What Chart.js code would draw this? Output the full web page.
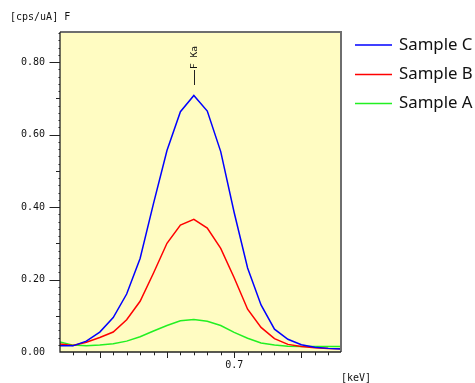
<!DOCTYPE html>
<html>
<head>
<meta charset="utf-8">
<script src="https://cdn.jsdelivr.net/npm/chart.js@4.4.1/dist/chart.umd.min.js"></script>
<style>
  html, body { margin: 0; padding: 0; background: #ffffff; }
  #wrap { position: relative; width: 475px; height: 383px; overflow: hidden; }
  canvas { display: block; }
</style>
</head>
<body>
<div id="wrap"><canvas id="c" width="475" height="383"></canvas></div>
<script>
// Energy (keV), sampled every 0.01 keV
const energies = [0.57, 0.58, 0.59, 0.60, 0.61, 0.62, 0.63, 0.64, 0.65, 0.66, 0.67,
                  0.68, 0.69, 0.70, 0.71, 0.72, 0.73, 0.74, 0.75, 0.76, 0.77, 0.78];
// Intensities (cps/uA)
const sampleC = [0.017, 0.017, 0.030, 0.055, 0.095, 0.160, 0.258, 0.410, 0.556, 0.663, 0.708,
                 0.665, 0.553, 0.385, 0.232, 0.130, 0.063, 0.035, 0.020, 0.013, 0.010, 0.008];
const sampleB = [0.022, 0.018, 0.027, 0.040, 0.055, 0.089, 0.140, 0.218, 0.300, 0.350, 0.366,
                 0.342, 0.286, 0.205, 0.118, 0.068, 0.037, 0.021, 0.015, 0.012, 0.010, 0.009];
const sampleA = [0.028, 0.019, 0.017, 0.019, 0.023, 0.030, 0.042, 0.058, 0.073, 0.086, 0.090,
                 0.085, 0.073, 0.054, 0.038, 0.025, 0.019, 0.016, 0.015, 0.015, 0.015, 0.015];
const seriesNames = ['Sample C', 'Sample B', 'Sample A'];
const seriesColors = ['#0000ff', '#ff0000', '#22f022'];
const yTickLabels = ['0.00', '0.20', '0.40', '0.60', '0.80'];
const xTickLabels = ['0.7'];
const peakLine = { energy: 0.67, label: 'F Ka' };
const yUnitLabel = '[cps/uA] F';
const xUnitLabel = '[keV]';

const MONO = '"DejaVu Sans Mono", "Liberation Mono", monospace';

function pts(vals) { return energies.map((e, i) => ({ x: e, y: vals[i] })); }

const decor = {
  id: 'decor',
  beforeDraw(chart) {
    const { ctx, chartArea: a } = chart;
    ctx.save();
    ctx.fillStyle = '#fffcc2';
    ctx.fillRect(a.left, a.top, a.right - a.left, a.bottom - a.top);
    ctx.restore();
  },
  afterDraw(chart) {
    const { ctx, chartArea: a } = chart;
    const xs = chart.scales.x, ys = chart.scales.y;
    ctx.save();
    // frame
    ctx.strokeStyle = '#6e6e6e';
    ctx.lineWidth = 2;
    ctx.beginPath();
    ctx.moveTo(a.left, a.top); ctx.lineTo(a.right, a.top); ctx.lineTo(a.right, a.bottom);
    ctx.stroke();
    ctx.strokeStyle = '#222';
    ctx.lineWidth = 1.3;
    ctx.beginPath();
    ctx.moveTo(a.left, a.top); ctx.lineTo(a.left, a.bottom); ctx.lineTo(a.right, a.bottom);
    ctx.stroke();
    // y tick marks
    ctx.strokeStyle = '#222';
    ctx.lineWidth = 1;
    ys.ticks.forEach((t, i) => {
      const k = Math.round(t.value * 100);
      if (k === 0) return;
      const y = Math.round(ys.getPixelForTick(i)) + 0.5;
      const len = (k % 20 === 0) ? 10.5 : (k % 10 === 0 ? 4 : 1.5);
      ctx.beginPath(); ctx.moveTo(a.left - len, y); ctx.lineTo(a.left, y); ctx.stroke();
    });
    // x tick marks
    xs.ticks.forEach((t, i) => {
      const k = Math.round(t.value * 100);
      const x = Math.round(xs.getPixelForTick(i)) + 0.5;
      const len = (k % 5 === 0) ? 6 : 3.3;
      ctx.beginPath(); ctx.moveTo(x, a.bottom); ctx.lineTo(x, a.bottom + len); ctx.stroke();
    });
    // unit labels
    ctx.fillStyle = '#111';
    ctx.font = '10px ' + MONO;
    ctx.textBaseline = 'middle';
    ctx.textAlign = 'left';
    ctx.fillText(yUnitLabel, 10, 17);
    ctx.fillText(xUnitLabel, 341, 378);
    // peak marker
    const px = Math.round(xs.getPixelForValue(peakLine.energy)) + 0.5;
    ctx.strokeStyle = '#222';
    ctx.lineWidth = 1;
    ctx.beginPath(); ctx.moveTo(px, 85); ctx.lineTo(px, 70); ctx.stroke();
    ctx.save();
    ctx.translate(px, 69);
    ctx.rotate(-Math.PI / 2);
    ctx.font = '9.5px ' + MONO;
    ctx.textAlign = 'left';
    ctx.textBaseline = 'middle';
    ctx.fillText(peakLine.label, 0, 0.5);
    ctx.restore();
    // legend
    const rows = [45, 74.5, 103.5];
    chart.data.datasets.forEach((ds, i) => {
      const y = rows[i];
      ctx.strokeStyle = ds.borderColor;
      ctx.lineWidth = 1.3;
      ctx.beginPath(); ctx.moveTo(355, y); ctx.lineTo(392, y); ctx.stroke();
      ctx.fillStyle = '#111';
      ctx.font = '16.8px "Noto Sans", "Open Sans", sans-serif';
      ctx.textAlign = 'left';
      ctx.textBaseline = 'middle';
      ctx.fillText(ds.label, 399, y);
    });
    ctx.restore();
  }
};

new Chart(document.getElementById('c'), {
  type: 'line',
  data: {
    datasets: [
      { label: seriesNames[0], data: pts(sampleC), borderColor: seriesColors[0] },
      { label: seriesNames[1], data: pts(sampleB), borderColor: seriesColors[1] },
      { label: seriesNames[2], data: pts(sampleA), borderColor: seriesColors[2] }
    ]
  },
  options: {
    responsive: false,
    devicePixelRatio: 1,
    animation: false,
    elements: {
      line: { borderWidth: 1.5, tension: 0, fill: false },
      point: { radius: 0, hoverRadius: 0 }
    },
    layout: { padding: { top: 32, right: 134, left: 0, bottom: 0 } },
    plugins: { legend: { display: false }, tooltip: { enabled: false } },
    scales: {
      x: {
        type: 'linear',
        min: 0.5704,
        max: 0.7795,
        grid: { display: false, drawTicks: false },
        border: { display: false },
        afterFit(s) { s.height = 31; },
        ticks: {
          stepSize: 0.01,
          includeBounds: false,
          autoSkip: false,
          maxRotation: 0,
          minRotation: 0,
          padding: 7,
          color: '#111',
          font: { family: MONO, size: 10 },
          callback(v) {
            const s = (Math.round(v * 100) / 100).toString();
            return xTickLabels.includes(s) ? s : '';
          }
        }
      },
      y: {
        type: 'linear',
        min: 0,
        max: 0.883,
        grid: { display: false, drawTicks: false },
        border: { display: false },
        afterFit(s) { s.width = 60; },
        ticks: {
          stepSize: 0.02,
          includeBounds: false,
          autoSkip: false,
          padding: 15,
          color: '#111',
          font: { family: MONO, size: 10 },
          callback(v) {
            const s = v.toFixed(2);
            return yTickLabels.includes(s) ? s : '';
          }
        }
      }
    }
  },
  plugins: [decor]
});
</script>
</body>
</html>
